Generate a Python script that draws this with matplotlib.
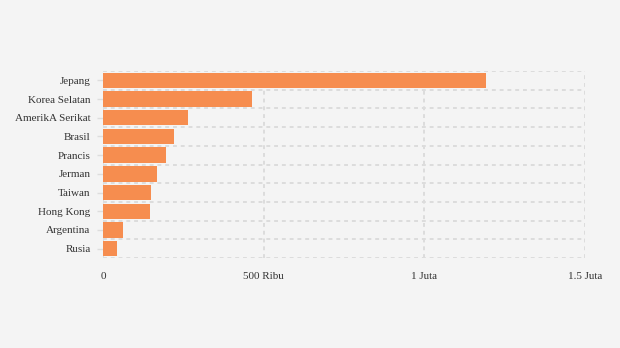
import matplotlib
matplotlib.use("Agg")
import matplotlib.pyplot as plt

countries = ["Jepang", "Korea Selatan", "AmerikA Serikat", "Brasil", "Prancis",
             "Jerman", "Taiwan", "Hong Kong", "Argentina", "Rusia"]
values = [1192000, 463000, 266000, 222000, 197000, 169000, 150000, 147000, 63000, 45000]
xticks = [0, 500000, 1000000, 1500000]
xticklabels = ["0", "500 Ribu", "1 Juta", "1.5 Juta"]

plt.rcParams['font.family'] = ['Liberation Serif', 'DejaVu Serif']

fig = plt.figure(figsize=(6.2, 3.48), dpi=100, facecolor="#f4f4f4")
ax = fig.add_axes([103/620, 1-258/348, (585-103)/620, (258-71)/348])
ax.set_facecolor("#f4f4f4")

n = len(countries)
ypos = list(range(n))
ax.barh(ypos, values, height=0.82, color="#f68d4f", zorder=3)
ax.set_ylim(n - 0.5, -0.5)
ax.set_xlim(0, 1500000)

ax.set_yticks(ypos)
ax.set_yticklabels(countries, fontsize=8, color="#333333")
ax.set_xticks(xticks)
ax.set_xticklabels(xticklabels, fontsize=8, color="#333333")

# grid lines at band boundaries
for b in [i - 0.5 for i in range(n + 1)]:
    ax.axhline(b, color="#dcdcdc", lw=1.4, ls=(0, (2, 2)), zorder=1)
for x in xticks:
    ax.axvline(x, color="#dcdcdc", lw=1.4, ls=(0, (2, 2)), zorder=1)

for s in ax.spines.values():
    s.set_visible(False)
ax.tick_params(axis="y", length=4, color="#dddddd", width=1, pad=5)
ax.tick_params(axis="x", length=0, pad=10)

fig.savefig("out.png", dpi=100, facecolor="#f4f4f4")
